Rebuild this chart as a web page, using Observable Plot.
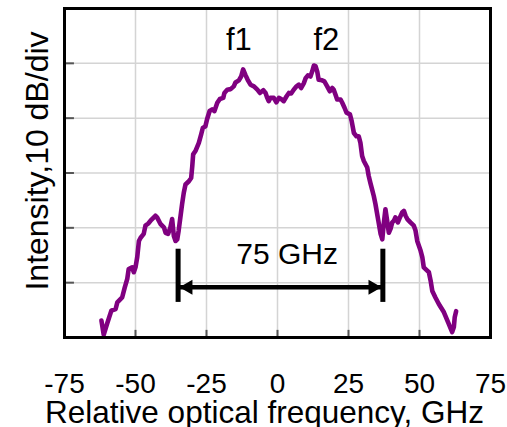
<!DOCTYPE html>
<html><head><meta charset="utf-8">
<script src="https://cdn.jsdelivr.net/npm/d3@7"></script>
<script src="https://cdn.jsdelivr.net/npm/@observablehq/plot@0.6"></script>
<style>body{margin:0;background:#fff}</style>
</head><body><div id="chart"></div>
<script>
const freq = [-62.0,-61.2,-60.0,-58.5,-57.0,-56.4,-54.7,-53.8,-52.9,-52.4,-51.2,-50.6,-50.0,-49.4,-48.8,-48.2,-47.1,-46.5,-45.5,-44.7,-43.0,-42.4,-41.2,-40.0,-39.4,-38.5,-37.7,-37.1,-36.5,-35.9,-35.3,-34.8,-34.2,-33.6,-33.0,-32.4,-31.2,-30.4,-30.0,-29.7,-28.9,-27.7,-26.9,-26.3,-25.4,-24.8,-23.9,-23.0,-22.2,-21.2,-20.3,-19.1,-18.7,-17.7,-16.5,-15.4,-14.8,-13.6,-12.8,-12.1,-11.3,-10.5,-9.5,-8.3,-7.1,-6.2,-5.0,-4.2,-3.6,-3.1,-2.5,-1.3,-0.4,0.5,1.3,2.2,3.2,4.0,4.8,5.7,6.7,7.5,8.3,9.3,9.9,10.7,11.6,12.2,12.8,13.4,14.0,14.5,15.7,16.5,17.5,18.4,19.3,19.8,20.4,21.0,22.2,22.8,23.6,24.3,25.5,26.1,26.9,27.8,28.6,29.2,29.8,30.4,31.6,32.1,32.7,33.3,33.9,34.5,35.5,36.3,36.9,37.4,38.0,38.6,39.2,39.8,40.4,41.0,41.5,42.4,43.1,43.9,44.5,45.1,45.7,46.8,48.0,48.6,49.2,50.4,51.0,51.5,52.7,53.3,53.9,54.5,55.6,56.8,58.6,60.3,61.5,62.1,62.4,62.9];
const intensity = [3.1,0.5,2.5,4.9,5.2,6.4,7.3,9.1,10.7,12.5,12.8,11.9,12.8,14.6,17.6,18.2,18.9,20.4,20.8,21.3,22.2,21.9,20.7,20.1,19.1,18.9,20.1,21.6,18.5,17.6,17.9,19.5,21.9,24.3,26.4,27.9,28.5,29.1,31.3,33.4,34.0,35.5,37.0,38.2,38.5,39.8,41.3,41.6,41.3,42.8,43.5,43.7,44.6,45.2,45.3,45.8,46.5,46.9,47.6,48.9,47.9,47.0,46.1,45.8,45.2,44.6,45.1,44.6,43.7,43.1,43.7,43.7,42.9,43.7,43.5,43.1,44.0,44.6,44.5,45.2,45.8,46.1,45.5,46.4,47.3,47.8,47.6,48.5,49.6,49.5,48.5,47.0,46.9,46.7,45.8,44.9,45.5,45.2,44.3,43.4,43.4,42.8,41.9,41.0,40.7,39.5,37.3,36.7,36.7,35.5,33.1,32.2,31.0,29.5,28.2,27.0,25.8,24.3,21.3,18.9,17.9,20.7,23.4,21.3,19.1,19.8,21.0,21.3,21.9,21.0,21.9,22.8,23.1,22.2,21.6,21.0,20.4,19.5,17.6,15.8,14.6,12.8,12.2,11.9,10.4,8.5,7.3,6.1,4.6,2.5,1.0,1.9,3.7,4.8];
const xTicks = [-75, -50, -25, 0, 25, 50, 75];
const xGrid = [-50, -25, 0, 25, 50];
const yGrid = [10, 20, 30, 40, 50];
const xLabel = "Relative optical frequency, GHz";
const yLabel = "Intensity,10 dB/div";
const peakNames = ["f1", "f2"];
const peakNameX = [-13.6, 17.2];
const peakNameY = [54.3, 54.3];
const spanText = "75 GHz";
const spanTextX = 3.4;
const spanTextY = 15.2;
const spanEnds = [-35.0, 37.1];
const spanBarLow = 6.4, spanBarHigh = 16.1;
const spanArrowY = 9.15;

const spectrum = freq.map((f, i) => ({f, v: intensity[i]}));
const peaks = peakNames.map((t, i) => ({t, x: peakNameX[i], y: peakNameY[i]}));

const chart = Plot.plot({
  width: 507, height: 427,
  marginLeft: 64, marginRight: 17, marginTop: 8, marginBottom: 90,
  style: {fontFamily: "'Liberation Sans', Arial, sans-serif", background: "#fff", color: "#000"},
  x: {domain: [-75, 75], axis: null},
  y: {domain: [0, 60], axis: null},
  marks: [
    Plot.ruleX(xGrid, {stroke: "#d4d4d4", strokeWidth: 1.5}),
    Plot.ruleY(yGrid, {stroke: "#d4d4d4", strokeWidth: 1.5}),
    Plot.ruleX(xGrid, {y1: 0, y2: 1.3, stroke: "#555", strokeWidth: 2}),
    Plot.ruleY(yGrid, {x1: -75, x2: -71.5, stroke: "#555", strokeWidth: 2}),
    Plot.line(spectrum, {x: "f", y: "v", stroke: "#800080", strokeWidth: 4.6}),
    Plot.ruleX(spanEnds, {y1: spanBarLow, y2: spanBarHigh, stroke: "#000", strokeWidth: 5, strokeLinecap: "butt"}),
    Plot.ruleY([spanArrowY], {x1: spanEnds[0], x2: spanEnds[1], stroke: "#000", strokeWidth: 4.5}),
    Plot.dot([spanEnds[0]], {x: d => d, y: () => spanArrowY, symbol: "triangle", r: 5.6, fill: "#000", stroke: null, rotate: -90, dx: 10}),
    Plot.dot([spanEnds[1]], {x: d => d, y: () => spanArrowY, symbol: "triangle", r: 5.6, fill: "#000", stroke: null, rotate: 90, dx: -10}),
    Plot.text(peaks, {x: "x", y: "y", text: "t", fontSize: 31, fill: "#000"}),
    Plot.text([spanText], {x: () => spanTextX, y: () => spanTextY, text: d => d, fontSize: 30, fill: "#000"}),
    Plot.frame({stroke: "#000", strokeWidth: 3}),
    Plot.axisX(xTicks, {tickSize: 0, tickPadding: 36, fontSize: 28, label: null, fill: "#000", tickFormat: d => String(d)}),
    Plot.text([xLabel], {frameAnchor: "bottom", textAnchor: "middle", lineAnchor: "middle", dy: 75, dx: -13, fontSize: 31.5, fill: "#000"}),
    Plot.text([yLabel], {frameAnchor: "left", textAnchor: "middle", lineAnchor: "middle", rotate: -90, dx: -27, dy: -12, fontSize: 32, fill: "#000"})
  ]
});
document.getElementById("chart").appendChild(chart);
</script>
</body></html>
